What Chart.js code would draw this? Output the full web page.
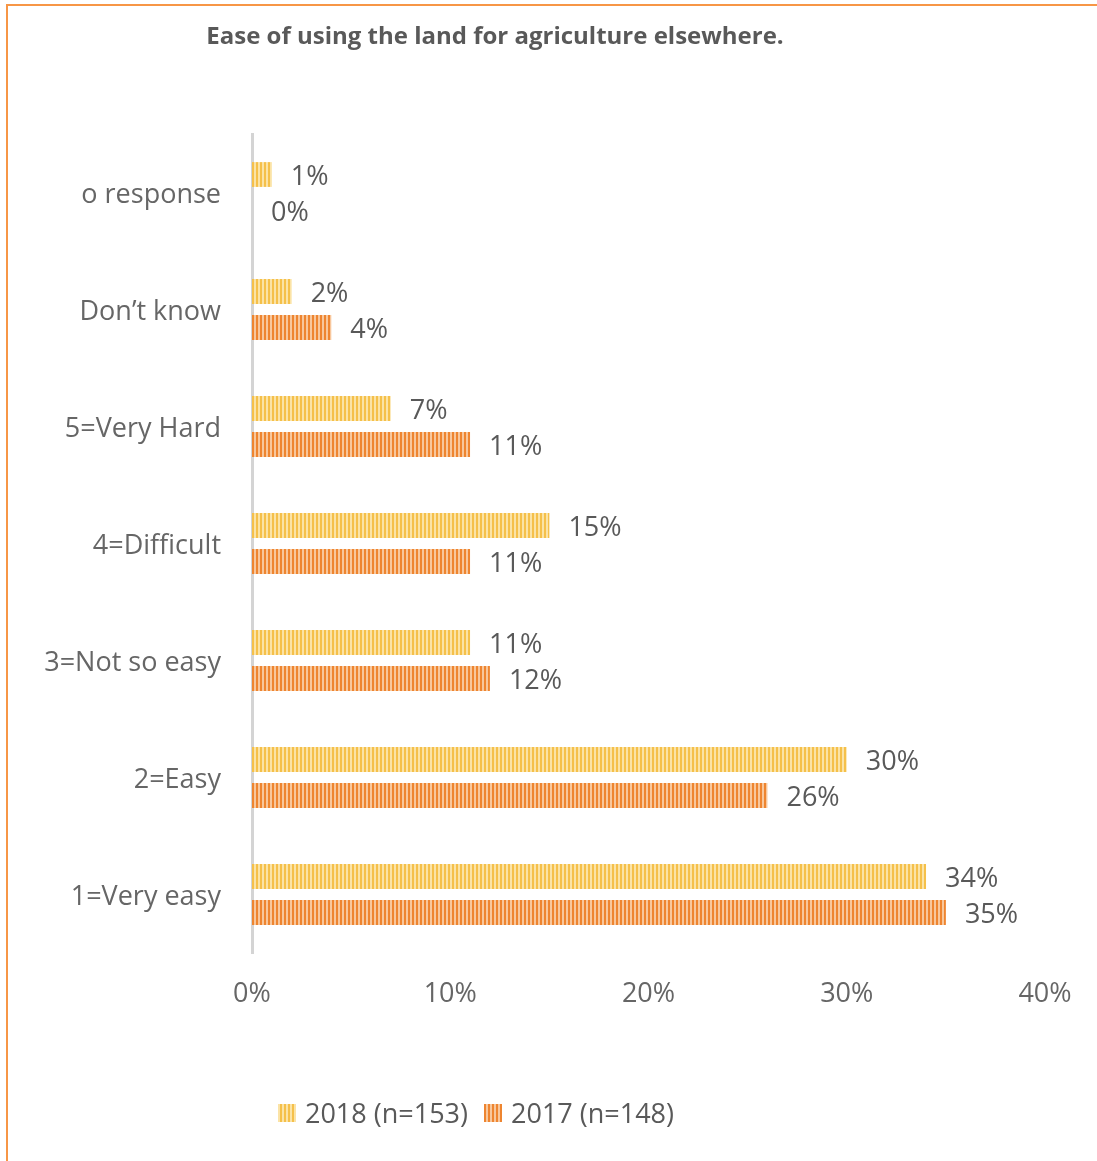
<!DOCTYPE html>
<html>
<head>
<meta charset="utf-8">
<title>Ease of using the land for agriculture elsewhere</title>
<script src="https://cdn.jsdelivr.net/npm/chart.js@4.4.0/dist/chart.umd.min.js"></script>
<style>
  html, body { margin: 0; padding: 0; background: #fff; overflow: hidden; }
  #frame {
    position: absolute; left: 6px; top: 4px; width: 1200px; height: 1300px;
    border-left: 2px solid #F79646; border-top: 2px solid #F79646; box-sizing: border-box;
  }
  #wrap { position: absolute; left: 0; top: 0; width: 1097px; height: 1161px; }
</style>
</head>
<body>
<div id="frame"></div>
<div id="wrap"><canvas id="chart" width="1097" height="1161"></canvas></div>
<script>
/* ---------- data ---------- */
const categories = ["o response", "Don\u2019t know", "5=Very Hard", "4=Difficult", "3=Not so easy", "2=Easy", "1=Very easy"];
const values2018 = [1, 2, 7, 15, 11, 30, 34];
const values2017 = [0, 4, 11, 11, 12, 26, 35];
const seriesNames = ["2018 (n=153)", "2017 (n=148)"];
const xTicks = [0, 10, 20, 30, 40];
const chartTitle = "Ease of using the land for agriculture elsewhere.";

const FONT = "'Open Sans', 'Noto Sans', sans-serif";
const TEXT = "#595959";
const SIZE = 27;

/* vertical stripe fill like the office "light vertical" pattern */
function stripes(dark, light) {
    const c = document.createElement("canvas");
    c.width = 4; c.height = 4;
    const g = c.getContext("2d");
    g.fillStyle = light; g.fillRect(0, 0, 4, 4);
    g.fillStyle = dark; g.fillRect(0, 0, 2, 4);
    return g.createPattern(c, "repeat");
}
const fill2018 = stripes("#F5C04A", "#FBE3A6");
const fill2017 = stripes("#EE8530", "#F8C79C");

/* value labels at bar ends */
const barLabels = {
    id: "barLabels",
    afterDatasetsDraw(chart) {
        const ctx = chart.ctx;
        ctx.save();
        ctx.font = SIZE + "px " + FONT;
        ctx.fillStyle = TEXT;
        ctx.textAlign = "left";
        ctx.textBaseline = "middle";
        chart.data.datasets.forEach((ds, i) => {
            chart.getDatasetMeta(i).data.forEach((bar, j) => {
                ctx.fillText(ds.data[j] + "%", bar.x + 19, bar.y + 3);
            });
        });
        ctx.restore();
    }
};

/* title and legend */
const decorations = {
    id: "decorations",
    afterDraw(chart) {
        const ctx = chart.ctx;
        ctx.save();
        ctx.fillStyle = TEXT;
        ctx.font = "bold 24px " + FONT;
        ctx.textAlign = "center";
        ctx.textBaseline = "middle";
        ctx.fillText(chartTitle, 495, 37);

        // legend, centred under the plot
        ctx.font = SIZE + "px " + FONT;
        const box = 18, gapBox = 9, gapItem = 16;
        const items = chart.data.datasets.map(ds => ({
            ds, w: box + gapBox + ctx.measureText(ds.label).width
        }));
        const total = items.reduce((s, it) => s + it.w, 0) + gapItem * (items.length - 1);
        let x = 476 - total / 2;
        const y = 1115;
        ctx.textAlign = "left";
        items.forEach(it => {
            ctx.fillStyle = it.ds.backgroundColor;
            ctx.fillRect(x, y - box / 2 - 2, box, box);
            ctx.fillStyle = TEXT;
            ctx.fillText(it.ds.label, x + box + gapBox, y);
            x += it.w + gapItem;
        });
        ctx.restore();
    }
};

new Chart(document.getElementById("chart"), {
    type: "bar",
    data: {
        labels: categories,
        datasets: [
            { label: seriesNames[0], data: values2018, backgroundColor: fill2018 },
            { label: seriesNames[1], data: values2017, backgroundColor: fill2017 }
        ]
    },
    options: {
        indexAxis: "y",
        responsive: false,
        animation: false,
        categoryPercentage: 0.615,
        barPercentage: 0.69,
        layout: { padding: { left: 0, right: 52, top: 134, bottom: 148 } },
        plugins: {
            legend: { display: false },
            title: { display: false },
            tooltip: { enabled: false }
        },
        scales: {
            x: {
                min: 0, max: 40,
                afterBuildTicks(scale) { scale.ticks = xTicks.map(v => ({ value: v })); },
                afterFit(scale) { scale.height = 60; },
                grid: { display: false, drawTicks: false },
                border: { display: false },
                ticks: {
                    padding: 25,
                    color: "#666",
                    font: { family: FONT, size: SIZE },
                    callback: v => v + "%"
                }
            },
            y: {
                afterFit(scale) { scale.width = 252; },
                grid: { display: false, drawTicks: false },
                border: { display: true, color: "#D4D4D4", width: 3 },
                ticks: {
                    padding: 31,
                    labelOffset: 3,
                    color: "#666",
                    font: { family: FONT, size: SIZE }
                }
            }
        }
    },
    plugins: [barLabels, decorations]
});
</script>
</body>
</html>
